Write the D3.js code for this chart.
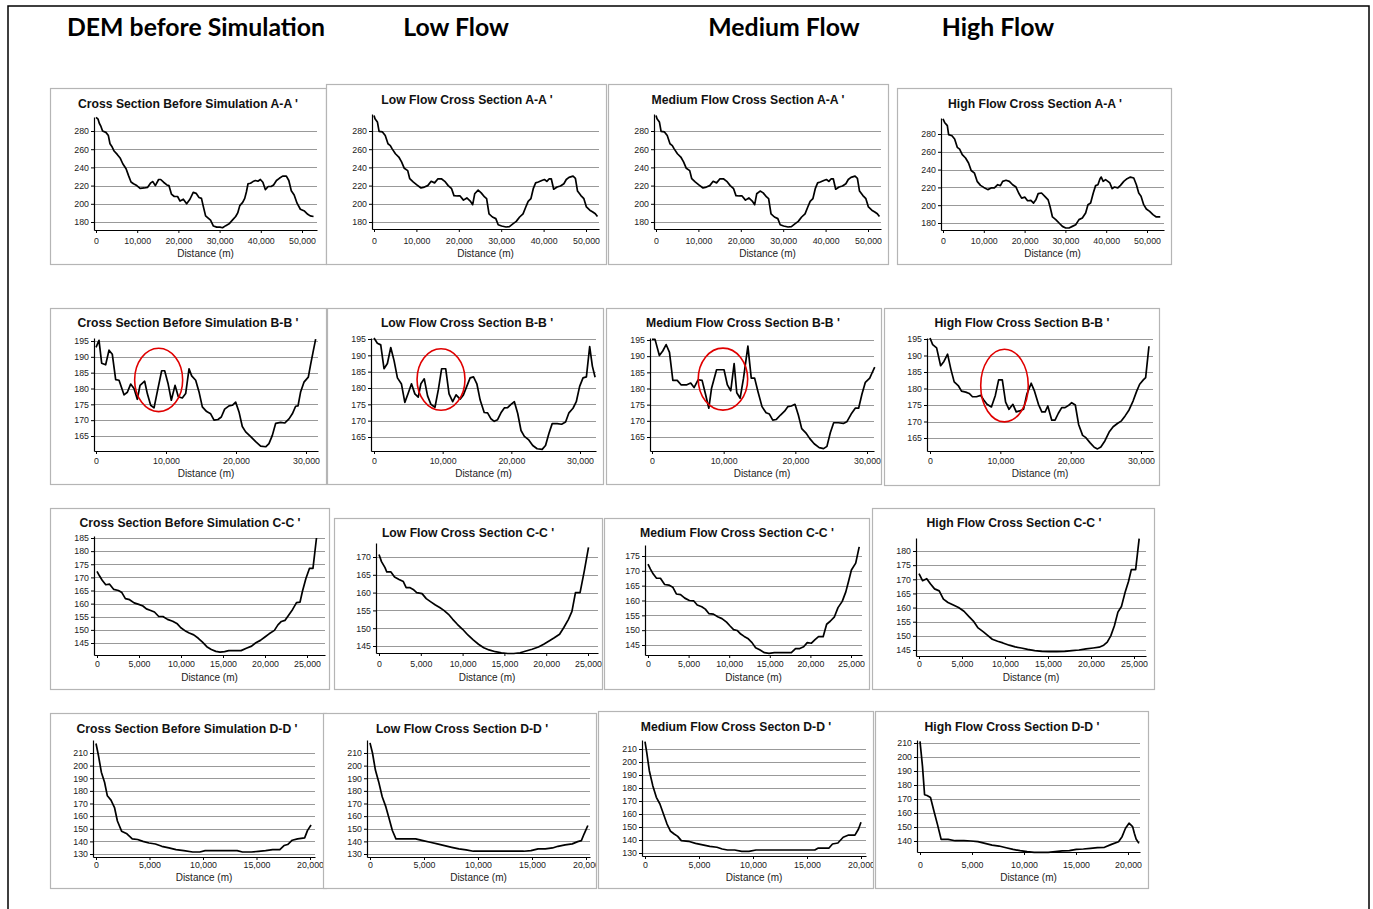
<!DOCTYPE html>
<html>
<head>
<meta charset="utf-8">
<script src="https://cdn.jsdelivr.net/npm/d3@7"></script>
<style>
  body { margin: 0; background: #fff; }
  svg { display: block; }
  .header { font-family: Lato, "Liberation Sans", sans-serif; font-weight: bold; font-size: 24.8px; fill: #000; }
  .title { font-family: "Liberation Sans", Arial, sans-serif; font-weight: bold; font-size: 12.2px; fill: #111; }
  .tick text { font-family: "Liberation Sans", Arial, sans-serif; font-size: 8.8px; fill: #222; }
  .xlab { font-family: "Liberation Sans", Arial, sans-serif; font-size: 10px; fill: #222; }
</style>
</head>
<body>
<svg id="fig" width="1373" height="909"></svg>
<script>
// column headers
var headers = ["DEM before Simulation", "Low Flow", "Medium Flow", "High Flow"];

// panel titles, row by row
var titles = [
  "Cross Section Before Simulation A-A '", "Low Flow Cross Section A-A '", "Medium Flow Cross Section A-A '", "High Flow Cross Section A-A '",
  "Cross Section Before Simulation B-B '", "Low Flow Cross Section B-B '", "Medium Flow Cross Section B-B '", "High Flow Cross Section B-B '",
  "Cross Section Before Simulation C-C '", "Low Flow Cross Section C-C '", "Medium Flow Cross Section C-C '", "High Flow Cross Section C-C '",
  "Cross Section Before Simulation D-D '", "Low Flow Cross Section D-D '", "Medium Flow Cross Secton D-D '", "High Flow Cross Section D-D '"
];

// tick values
var ticksA_y = [180, 200, 220, 240, 260, 280];
var ticksA_x = [0, 10000, 20000, 30000, 40000, 50000];
var ticksB_y = [165, 170, 175, 180, 185, 190, 195];
var ticksB_x = [0, 10000, 20000, 30000];
var ticksC1_y = [145, 150, 155, 160, 165, 170, 175, 180, 185];
var ticksC2_y = [145, 150, 155, 160, 165, 170];
var ticksC3_y = [145, 150, 155, 160, 165, 170, 175];
var ticksC4_y = [145, 150, 155, 160, 165, 170, 175, 180];
var ticksC_x = [0, 5000, 10000, 15000, 20000, 25000];
var ticksD_y = [130, 140, 150, 160, 170, 180, 190, 200, 210];
var ticksD4_y = [140, 150, 160, 170, 180, 190, 200, 210];
var ticksD_x = [0, 5000, 10000, 15000, 20000];

// profiles: [distance (m), elevation (m)]
var beforeAA = [[0,295],[500,293],[800,288.5],[1200,285],[1600,280],[2400,278.5],[3000,275],[3400,266],[3900,262.6],[4400,258],[5200,254],[5900,250],[6500,244],[7300,238.5],[7900,231],[8500,224],[9100,222],[9900,220],[10700,217],[11700,217.4],[12500,218],[13300,223],[13800,224.4],[14400,220],[15200,226.7],[15700,226.7],[16400,223.7],[17200,220.7],[17700,220],[18300,210.7],[19000,208],[19800,208],[20400,203],[21200,205],[22000,200],[22800,205],[23600,212.6],[24300,211.5],[25000,207],[25600,206],[26000,198],[26600,186.7],[27300,184],[27800,182],[28500,175.6],[29300,174.4],[30100,174.4],[30700,173.7],[31500,176],[32300,178],[33100,182],[33900,186],[34400,190],[34900,198],[35600,201.5],[36100,206],[36500,213],[36900,222],[37500,222.6],[38100,224.4],[38700,225.6],[39300,224.8],[39900,226.7],[40500,223.7],[41100,215.6],[41800,219],[42500,219],[43100,220.7],[43800,225.6],[44500,228],[45300,230.4],[46200,230.4],[46800,225.6],[47400,214.4],[48100,209.6],[48800,200.7],[49600,194],[50600,192],[51400,188.5],[52000,186.7],[52800,186]];
var lowAA = [[0,297],[240,293.5],[800,290],[1200,279.6],[2000,279],[2650,275],[3300,266],[3850,264],[4250,260.6],[5050,255],[5850,251.4],[6500,246],[7150,239],[7950,236.5],[8430,227.6],[9230,224],[10030,221],[11080,217.4],[11880,218.4],[12680,220],[13480,224.7],[14290,223],[15090,227.5],[15890,227.5],[16690,224.7],[17500,220],[18300,216.6],[18860,209],[19660,208.6],[20300,208.6],[21100,204],[21900,206.4],[22700,203],[23270,199],[23750,211],[24560,215],[25280,212],[26080,207.5],[26560,205.6],[27130,189],[27930,185.5],[28730,183.7],[29290,177],[30100,175.6],[31140,174.5],[31940,175],[32750,178],[33550,180.7],[34350,185.5],[35150,189],[35800,196.5],[36360,202.7],[37000,205.6],[37560,216.6],[38120,223],[38760,224],[39570,225.6],[40200,226.7],[40770,224.6],[41330,227.5],[41810,227.5],[42380,216],[43180,218.4],[43980,219.5],[44780,222],[45350,226.7],[45990,229],[46950,230.4],[47500,228],[48000,214],[48800,209],[49500,205.6],[50100,196.5],[50900,193],[51600,191],[52200,189],[52700,186]];
var mediumAA = [[0,297],[240,293.5],[800,290],[1200,279.6],[2000,279],[2650,275],[3300,266],[3850,264],[4250,260.6],[5050,255],[5850,251.4],[6500,246],[7150,239],[7950,236.5],[8430,227.6],[9230,224],[10030,221],[11080,217.4],[11880,218.4],[12680,220],[13480,224.7],[14290,223],[15090,227.5],[15890,227.5],[16690,224.7],[17500,220],[18300,216.6],[18860,209],[19660,208.6],[20300,208.6],[21100,204],[21900,206.4],[22700,203],[23270,199],[23750,211],[24560,214],[25280,212],[26080,207.5],[26560,205.6],[27130,189],[27930,185.5],[28730,183.7],[29290,177],[30100,175.6],[31140,174.5],[31940,175],[32750,178],[33550,180.7],[34350,185.5],[35150,189],[35800,196.5],[36360,202.7],[37000,205.6],[37560,216.6],[38120,223],[38760,224],[39570,225.6],[40200,226.7],[40770,224.6],[41330,227.5],[41810,227.5],[42380,216],[43180,218.4],[43980,219.5],[44780,222],[45350,226.7],[45990,229],[46950,230.4],[47500,228],[48000,214],[48800,209],[49500,205.6],[50100,196.5],[50900,193],[51600,191],[52200,189],[52700,186]];
var highAA = [[0,297],[400,293],[1060,289.4],[1380,279.3],[2200,278],[2850,274.4],[3500,265],[4070,263],[4720,256.8],[5530,253],[6260,247.4],[6910,239],[7720,236],[8370,226.8],[9190,222.3],[10000,220],[10980,217.5],[11790,219.4],[12600,219.4],[13410,223],[14070,222],[14630,226.8],[15450,228],[16260,226.8],[17070,223],[17890,220.4],[18540,213.7],[19270,208],[20080,209],[20730,205],[21540,205.4],[22200,202.4],[22760,206],[23330,213],[24150,213.7],[24960,210],[25770,206],[26260,198],[26830,186.8],[27640,183.8],[28450,180],[29270,176.2],[30080,174.4],[30890,174.4],[31700,176.2],[32520,178],[33330,183.8],[34150,185.6],[34960,191.2],[35530,200.6],[36180,202.4],[36830,213.7],[37400,222],[37970,223],[38460,229.4],[38780,231.6],[39270,226.8],[39840,228.7],[40410,226.8],[40890,225],[41460,218.6],[42030,220.4],[42850,219.4],[43500,222.3],[44310,226.8],[45120,229.8],[45930,231.6],[46750,230.6],[47400,223],[47970,213.7],[48540,210],[49190,200.6],[49840,195.8],[50650,193.1],[51460,189.4],[52280,186.8],[53250,186.8]];

var beforeBB = [[0,193],[430,195.2],[810,188],[1380,187.5],[1860,192.1],[2330,190.8],[2810,182.8],[3290,182.6],[4000,178],[4480,178.8],[4950,181.4],[5430,180],[5900,176.6],[6290,181],[6950,182.3],[7330,178.4],[7810,174.7],[8290,173.9],[8760,179],[9380,185.6],[9810,185.6],[10290,181.6],[10760,176.3],[11290,181],[11760,177.4],[12330,177],[12810,178.4],[13290,186.2],[13670,184],[14240,182.6],[14710,179],[15190,174.2],[15810,172.7],[16380,172],[16860,170],[17430,170.2],[17900,171],[18380,173.5],[19000,174.5],[19480,174.7],[19950,175.7],[20430,172.6],[20900,168],[21380,166.3],[22100,164.8],[22810,163.2],[23520,161.8],[24240,161.6],[24710,162.6],[25190,165.2],[25670,169],[26380,169.3],[26950,169.1],[27570,170.4],[28050,172],[28520,174.4],[28860,174.5],[29240,179],[29710,182],[30330,183.6],[30670,187.7],[31000,191.4],[31380,195.6]];
var lowBB = [[0,195.3],[490,193.7],[980,193.2],[1460,185.9],[1950,187.5],[2440,192.4],[2930,188.3],[3410,183.1],[4000,181.2],[4490,175.6],[4980,178.4],[5460,181.3],[5950,178.2],[6440,177.2],[6830,181.3],[7320,182.8],[7800,177.6],[8290,175],[8880,174.1],[9370,179.5],[9850,185.9],[10440,185.9],[10930,178.2],[11460,175.8],[11950,177.9],[12540,176.6],[13020,177.9],[13510,180.5],[14000,183.1],[14490,183.4],[14980,181.3],[15460,176.3],[16050,172.5],[16540,172.4],[17020,170.6],[17510,169.8],[18000,170.3],[18490,172.4],[18980,173.9],[19460,174],[19950,175],[20440,175.8],[20930,172.2],[21410,167],[21900,165.2],[22540,164.1],[23120,162.4],[23760,161.4],[24490,161.2],[24980,162.4],[25460,166],[25950,169.1],[26680,169.1],[27320,168.9],[27900,169.6],[28390,172.4],[28980,173.8],[29460,175.8],[29950,180.5],[30440,183.1],[30930,183.4],[31410,192.7],[31800,186.7],[32200,183.3]];
var mediumBB = [[0,195.2],[420,195.2],[1030,190.2],[1500,191.6],[1970,193.6],[2440,191.2],[2910,182.5],[3520,182.5],[4080,181.1],[4790,181.1],[5400,181.7],[5870,180.3],[6430,182.7],[6990,182.5],[7460,178.3],[7930,173.9],[8310,180.1],[9010,185.8],[10050,185.8],[10520,181.1],[10990,179.3],[11460,187.7],[11830,178.7],[12300,177],[12770,183.2],[13380,193.1],[13850,183.2],[14320,183.2],[14790,179],[15350,174.4],[15920,172.5],[16380,172.1],[16850,170.2],[17320,170.4],[17930,171.8],[18500,173],[18970,174.4],[19440,174.6],[19950,175.1],[20420,171.8],[20890,167.6],[21460,166.3],[22020,164.5],[22630,162.9],[23330,161.7],[23940,161.4],[24410,162.1],[24880,166.3],[25350,169.4],[26010,169.4],[26710,169.2],[27180,169.7],[27790,172.1],[28360,173.9],[28830,173.9],[29300,178.3],[29770,181.9],[30380,183.2],[30700,184.8],[31080,186.6]];
var highBB = [[0,195.3],[380,193.3],[940,192.3],[1510,186.9],[1980,188.2],[2500,190.4],[2970,185.8],[3440,182],[4010,180.9],[4480,179.2],[5090,178.9],[5570,178.5],[6040,177.5],[6600,177.5],[7220,177.9],[7640,176.5],[8110,175.2],[8730,174.4],[9290,177.9],[9760,182.6],[10280,182.6],[10750,175.9],[11230,173.7],[11790,175.2],[12260,172.9],[12740,173.2],[13300,173.7],[13770,178.3],[14390,181.6],[14860,179.2],[15420,175.2],[15900,172.9],[16370,172.9],[16750,174.7],[17310,170.4],[17780,170.4],[18250,172.5],[18730,174.2],[19200,174.2],[19720,174.9],[20140,175.7],[20660,175],[21130,169.1],[21700,165.8],[22170,165.1],[22740,163.6],[23350,162.2],[23820,161.7],[24290,162.3],[24860,164.1],[25470,166.8],[26040,168.4],[26650,169.4],[27220,170.2],[27740,171.7],[28300,173.5],[28870,176.2],[29390,179.2],[29810,181.3],[30330,182.6],[30660,183.3],[31130,192.8]];

var beforeCC = [[0,172.3],[290,170.6],[620,168.9],[1040,167.2],[1500,167.4],[2000,165.4],[2550,165],[2960,164.2],[3380,161.9],[3880,161.5],[4420,160.3],[4970,159.7],[5470,159.1],[5880,158],[6390,157.4],[6840,156.8],[7350,155.1],[7850,155.1],[8390,154],[9010,153.3],[9560,152.3],[9980,150.8],[10470,149.7],[10980,148.8],[11520,148.1],[12060,146.8],[12560,145.3],[13070,143.6],[13610,142.5],[14150,141.8],[14650,141.5],[15190,141.7],[15690,142.1],[16320,142.1],[17150,142.1],[17780,143],[18410,143.8],[18910,145.1],[19450,146],[19990,147.3],[20490,148.5],[21120,149.8],[21540,151.9],[21950,153.2],[22370,153.6],[22790,155.5],[23290,157.8],[23750,160.4],[24170,160.6],[24460,164.7],[24870,169.6],[25290,173.4],[25710,173.4],[26130,185]];
var lowCC = [[0,170.7],[300,168.7],[720,167],[930,165.8],[1430,165.8],[1860,164.4],[2400,163.7],[2910,163.1],[3250,161.4],[3670,161.4],[4090,160.9],[4510,160],[5150,159.7],[5650,158.3],[6200,157.4],[6750,156.5],[7260,155.8],[7760,155],[8310,153.9],[8820,152.5],[9370,151.1],[10000,149.7],[10630,148.1],[11270,146.7],[11900,145.5],[12530,144.5],[13160,143.9],[13920,143.4],[14640,143.1],[15400,142.9],[16120,142.9],[16880,143.1],[17590,143.6],[18310,144.1],[19070,144.7],[19700,145.5],[20340,146.4],[20970,147.3],[21600,148.3],[22110,150.2],[22660,152.5],[23080,154.7],[23500,160],[24050,160],[24560,166.1],[25060,172.7]];
var mediumCC = [[0,172.3],[300,170.6],[650,168.9],[1050,167.5],[1530,167.5],[2050,165.4],[2570,165.2],[3050,164.5],[3490,162.2],[4010,162],[4530,160.8],[5100,160],[5620,159.9],[6060,158.5],[6620,157.9],[7060,157.1],[7490,155.6],[8060,155.4],[8580,154.5],[9110,153.9],[9670,152.7],[10110,151.4],[10540,150.2],[10980,149.9],[11420,148.7],[11850,147.9],[12290,147.2],[12810,145.8],[13250,144.1],[13810,143.3],[14340,142.4],[14900,142.2],[15560,142.4],[16210,142.4],[16860,142.4],[17650,142.4],[18170,143.8],[18690,143.8],[19170,144.4],[19610,145.8],[20130,145.6],[20570,146.8],[21000,147.8],[21570,147.8],[22000,152],[22440,153],[22960,154.5],[23400,157.6],[23920,159.7],[24360,162.9],[24710,166.6],[25050,170.3],[25580,172.6],[26010,178.1]];
var highCC = [[0,172],[410,169.5],[900,170.2],[1320,168.4],[1810,166.6],[2350,165.9],[2840,163],[3370,161.8],[3990,160.9],[4600,160],[5230,158.7],[5840,156.7],[6380,155],[6870,152.8],[7490,151.4],[7980,150.2],[8520,148.8],[9140,148.1],[9750,147.5],[10490,146.7],[11190,146.1],[11890,145.7],[12630,145.2],[13460,144.8],[14280,144.5],[15100,144.4],[16000,144.4],[16950,144.5],[17780,144.8],[18600,145],[19420,145.4],[20250,145.7],[20950,146],[21480,146.7],[21890,147.8],[22300,150],[22720,153.6],[23130,158.4],[23540,160.4],[23950,165.2],[24360,169.2],[24690,173.4],[25190,173.4],[25600,184.4]];

var beforeDD = [[0,217.5],[230,208],[500,194.8],[800,186.8],[1060,176.1],[1400,172.7],[1730,166.8],[2000,156.1],[2390,148.1],[2890,146],[3390,142],[3890,141.5],[4390,140],[4950,138.7],[5550,137.9],[6150,136.1],[6810,134.8],[7480,133.5],[8210,132.7],[9040,131.6],[9700,131.6],[10200,132.7],[11200,132.7],[12190,132.7],[13190,132.7],[13690,131.6],[14520,131.6],[15180,132.1],[15850,132.7],[16510,133.5],[17180,133.5],[17570,136.7],[17910,137.5],[18340,140.9],[18840,142],[19500,142.8],[19770,148.7],[20100,152.9]];
var lowDD = [[0,218],[230,210],[500,196.5],[800,187.3],[1130,175.3],[1470,167.3],[1730,159.3],[2070,148.6],[2400,142],[2900,142],[3570,142],[4230,142],[4900,140.6],[5570,139.3],[6230,138],[6900,136.6],[7570,135.3],[8230,134],[8900,133.2],[9570,132.2],[10230,132.2],[11230,132.2],[12230,132.2],[13230,132.2],[14230,132.2],[14900,132.7],[15570,134],[16230,134],[16900,134.8],[17400,136.1],[18070,137.2],[18730,138],[19230,139.8],[19570,140.6],[19830,146],[20170,152.6]];
var mediumDD = [[0,215.6],[160,207.4],[400,193.3],[720,181.8],[1050,172.8],[1380,167.7],[1710,160],[2040,152.3],[2370,146.7],[2700,144.6],[3030,142.8],[3360,139.5],[4020,139],[4680,137.4],[5340,136.2],[6000,135.1],[6660,134.4],[7150,133.1],[7640,132.3],[8300,132.3],[8960,131.3],[9620,131.3],[10280,132.3],[11930,132.3],[13580,132.3],[15220,132.3],[15720,132.3],[16050,133.8],[17040,133.8],[17360,136.9],[17860,137.7],[18350,142.1],[18850,143.8],[19440,143.8],[19770,148.5],[20000,153.6]];
var highDD = [[0,211.2],[240,193.3],[440,173],[680,172.5],[1010,171.1],[1350,161.1],[1690,151.5],[2030,141.2],[2700,141.2],[3380,140.2],[4220,140.2],[4900,140],[5570,139.5],[6250,138.3],[6930,137.1],[7600,136.4],[8280,135.2],[8950,134],[9630,133.1],[10300,132.4],[10980,131.9],[12330,131.9],[13010,132.4],[13680,132.9],[14360,133.1],[15030,134],[15710,134.3],[16390,134.8],[17060,135.2],[17740,135.5],[18410,137.6],[19090,139.5],[19430,143.1],[19760,149.1],[20100,152.7],[20440,150.3],[20610,145.5],[20780,141.4],[21050,138.3]];

// red rings around the changed reach in B-B': [centre m, centre elev, half-width m, half-height elev]
var ringsBB = [[8950, 182.7, 3430, 10], [9760, 182.6, 3490, 9.4], [9900, 182.9, 3450, 9.6], [10590, 180.9, 3380, 11]];

var series = [beforeAA, lowAA, mediumAA, highAA, beforeBB, lowBB, mediumBB, highBB,
              beforeCC, lowCC, mediumCC, highCC, beforeDD, lowDD, mediumDD, highDD];
var yTickSets = [ticksA_y, ticksA_y, ticksA_y, ticksA_y, ticksB_y, ticksB_y, ticksB_y, ticksB_y,
                 ticksC1_y, ticksC2_y, ticksC3_y, ticksC4_y, ticksD_y, ticksD_y, ticksD_y, ticksD4_y];
var xTickSets = [ticksA_x, ticksA_x, ticksA_x, ticksA_x, ticksB_x, ticksB_x, ticksB_x, ticksB_x,
                 ticksC_x, ticksC_x, ticksC_x, ticksC_x, ticksD_x, ticksD_x, ticksD_x, ticksD_x];

// page layout of each panel (pixels)
// box: [x,y,w,h]; t: title centre; ax: y-axis x; top/bot: axis extent; yr/xr: two reference ticks [val,px,val,px]; xe: right end; lab/dist: label rows
var layout = [
  {box:[50,88,277,177],  t:[188,104],  ax:94,  top:117, bot:230, yr:[180,222,280,131], xr:[0,96,50000,302],   xe:317,  lab:241, dist:253},
  {box:[326,84,281,181], t:[467,100],  ax:372, top:114, bot:229, yr:[180,222,280,131], xr:[0,374,50000,586],  xe:599,  lab:241, dist:253},
  {box:[608,84,281,181], t:[748,100],  ax:654, top:114, bot:229, yr:[180,222,280,131], xr:[0,656,50000,868],  xe:881,  lab:241, dist:253},
  {box:[897,88,275,177], t:[1035,104], ax:941, top:118, bot:230, yr:[180,223,280,134], xr:[0,943,50000,1147], xe:1164, lab:241, dist:253},
  {box:[50,308,277,177], t:[188,323],  ax:94,  top:338, bot:451, yr:[165,436,195,341], xr:[0,96,30000,306],   xe:318,  lab:461, dist:473},
  {box:[327,308,277,177],t:[467,323],  ax:371, top:338, bot:451, yr:[165,437,195,339], xr:[0,374,30000,580],  xe:596,  lab:461, dist:473},
  {box:[606,308,276,177],t:[743,323],  ax:650, top:338, bot:451, yr:[165,437,195,340], xr:[0,652,30000,867],  xe:874,  lab:461, dist:473},
  {box:[884,308,276,178],t:[1022,323], ax:927, top:338, bot:451, yr:[165,438,195,339], xr:[0,930,30000,1141], xe:1153, lab:461, dist:473},
  {box:[50,508,280,182], t:[190,523],  ax:94,  top:536, bot:655, yr:[145,643,185,538], xr:[0,97,25000,307],   xe:325,  lab:664, dist:677},
  {box:[334,518,269,172],t:[468,533],  ax:376, top:543, bot:653, yr:[145,646,170,557], xr:[0,379,25000,588],  xe:598,  lab:664, dist:677},
  {box:[604,518,266,172],t:[737,533],  ax:645, top:545, bot:655, yr:[145,645,175,556], xr:[0,648,25000,851],  xe:862,  lab:664, dist:677},
  {box:[872,508,283,182],t:[1014,523], ax:916, top:538, bot:656, yr:[145,650,180,551], xr:[0,919,25000,1134], xe:1146, lab:664, dist:677},
  {box:[50,713,277,176], t:[187,729],  ax:93,  top:740, bot:857, yr:[130,854,210,753], xr:[0,96,20000,310],   xe:315,  lab:865, dist:877},
  {box:[323,713,274,176],t:[462,729],  ax:367, top:740, bot:857, yr:[130,854,210,753], xr:[0,370,20000,586],  xe:590,  lab:865, dist:877},
  {box:[598,711,276,178],t:[736,727],  ax:642, top:740, bot:856, yr:[130,853,210,749], xr:[0,645,20000,861],  xe:866,  lab:865, dist:877},
  {box:[875,711,274,178],t:[1012,727], ax:917, top:740, bot:852, yr:[140,841,210,743], xr:[0,920,20000,1128], xe:1140, lab:865, dist:877}
];
var headerX = [196, 456, 784, 998];

const svg = d3.select("#fig");
const defs = svg.append("defs");
const fmt = d3.format(",");

// outer frame
svg.append("path")
    .attr("d", "M8,915 V6 H1369 V915")
    .attr("fill", "none").attr("stroke", "#000").attr("stroke-width", 1.5);

svg.selectAll(".header")
    .data(headers)
    .enter().append("text")
    .attr("class", "header")
    .attr("x", (d, i) => headerX[i])
    .attr("y", 36)
    .attr("text-anchor", "middle")
    .text(d => d);

series.forEach(function (data, i) {
    const L = layout[i];
    const b = L.box;

    defs.append("clipPath").attr("id", "clip" + i)
        .append("rect").attr("x", b[0]).attr("y", b[1]).attr("width", b[2]).attr("height", b[3]);

    const g = svg.append("g").attr("clip-path", `url(#clip${i})`);

    g.append("rect")
        .attr("x", b[0]).attr("y", b[1]).attr("width", b[2]).attr("height", b[3])
        .attr("fill", "#fff");

    // reference scales from two ticks, then widen to the drawn axis extent
    const yRef = d3.scaleLinear().domain([L.yr[0], L.yr[2]]).range([L.yr[1], L.yr[3]]);
    const xRef = d3.scaleLinear().domain([L.xr[0], L.xr[2]]).range([L.xr[1], L.xr[3]]);
    const y = d3.scaleLinear().domain([yRef.invert(L.bot), yRef.invert(L.top)]).range([L.bot, L.top]);
    const x = d3.scaleLinear().domain([xRef.invert(L.ax), xRef.invert(L.xe)]).range([L.ax, L.xe]);

    // gridlines
    g.selectAll(".grid")
        .data(yTickSets[i])
        .enter().append("line")
        .attr("x1", L.ax).attr("x2", L.xe)
        .attr("y1", d => Math.round(y(d)) + 0.5).attr("y2", d => Math.round(y(d)) + 0.5)
        .attr("stroke", "#999").attr("stroke-width", 1);

    const yAxis = g.append("g")
        .attr("transform", `translate(${L.ax},0)`)
        .call(d3.axisLeft(y).tickValues(yTickSets[i]).tickSize(3).tickSizeOuter(0).tickPadding(2).tickFormat(d => d));
    const xAxis = g.append("g")
        .attr("transform", `translate(0,${L.bot})`)
        .call(d3.axisBottom(x).tickValues(xTickSets[i]).tickSize(3).tickSizeOuter(0)
              .tickPadding(L.lab - L.bot - 6).tickFormat(fmt));
    [yAxis, xAxis].forEach(a => {
        a.select(".domain").attr("stroke", "#000").attr("stroke-width", 1.2);
        a.selectAll(".tick line").attr("stroke", "#000");
    });

    // profile line
    g.append("path")
        .datum(data)
        .attr("fill", "none")
        .attr("stroke", "#000")
        .attr("stroke-width", 1.7)
        .attr("stroke-linejoin", "round")
        .attr("d", d3.line().x(d => x(d[0])).y(d => y(d[1])));

    if (i >= 4 && i < 8) {
        const r = ringsBB[i - 4];
        g.append("ellipse")
            .attr("cx", x(r[0])).attr("cy", y(r[1]))
            .attr("rx", x(r[0] + r[2]) - x(r[0]))
            .attr("ry", y(r[1] - r[3]) - y(r[1]))
            .attr("fill", "none").attr("stroke", "#e00000").attr("stroke-width", 1.6);
    }

    g.append("text")
        .attr("class", "title")
        .attr("x", L.t[0]).attr("y", L.t[1] + 4)
        .attr("text-anchor", "middle")
        .text(titles[i]);

    g.append("text")
        .attr("class", "xlab")
        .attr("x", (L.ax + L.xe) / 2).attr("y", L.dist + 3.5)
        .attr("text-anchor", "middle")
        .text("Distance (m)");

    // panel frame
    svg.append("rect")
        .attr("x", b[0] + 0.5).attr("y", b[1] + 0.5).attr("width", b[2] - 1).attr("height", b[3] - 1)
        .attr("fill", "none").attr("stroke", "#b5b5b5").attr("stroke-width", 1.2);
});
</script>
</body>
</html>
